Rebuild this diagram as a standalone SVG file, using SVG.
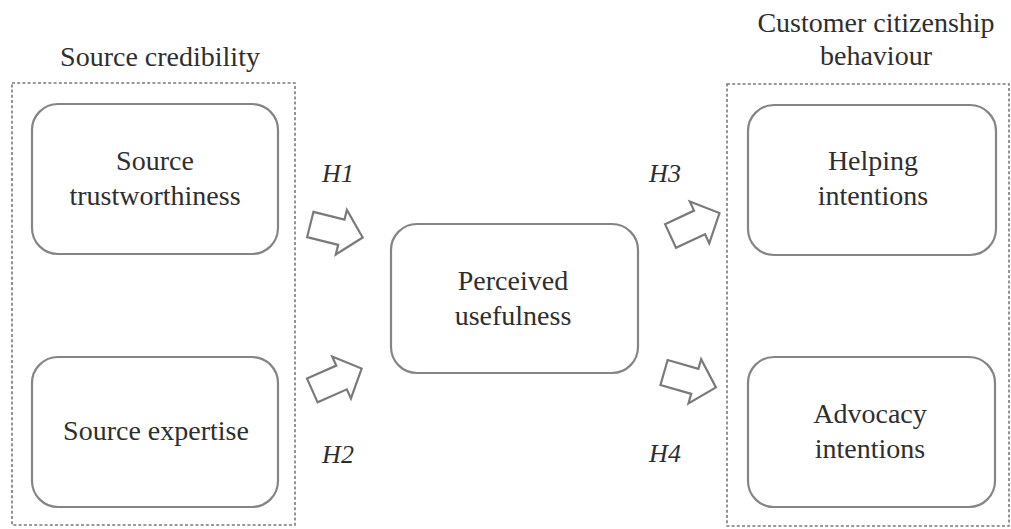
<svg xmlns="http://www.w3.org/2000/svg" width="1011" height="529" viewBox="0 0 1011 529">
<style>
.bg{fill:#ffffff}
.group{fill:none;stroke:#7a7a7a;stroke-width:1.6;stroke-dasharray:3 2.2}
.box{fill:#ffffff;stroke:#858585;stroke-width:2.2}
.arrow{fill:#ffffff;stroke:#7a7a7a;stroke-width:2.2;stroke-linejoin:miter}
text{font-family:"Liberation Serif","Times New Roman",serif;fill:#2e2e2e;text-anchor:middle}
.t{font-size:28px}
.h{font-size:26px;font-style:italic}
</style>
<defs>
<polygon id="blk" points="-27,-13 5,-13 5,-23 27,0 5,23 5,13 -27,13"/>
</defs>
<rect class="bg" x="0" y="0" width="1011" height="529"/>

<g id="source-credibility">
<rect class="group" x="12" y="83" width="283" height="442"/>
<text class="t" x="160" y="66">Source credibility</text>
</g>
<g id="customer-citizenship">
<rect class="group" x="727" y="84" width="282" height="442"/>
<text class="t" x="876" y="32">Customer citizenship</text>
<text class="t" x="876" y="65">behaviour</text>
</g>

<g id="source-trustworthiness">
<rect class="box" x="32" y="104" width="246" height="150" rx="26"/>
<text class="t" x="155" y="170">Source</text>
<text class="t" x="155" y="205">trustworthiness</text>
</g>
<g id="source-expertise">
<rect class="box" x="32" y="357" width="246" height="150" rx="26"/>
<text class="t" x="156" y="440">Source expertise</text>
</g>
<g id="perceived-usefulness">
<rect class="box" x="391" y="224" width="247" height="149" rx="26"/>
<text class="t" x="513" y="290">Perceived</text>
<text class="t" x="513" y="325">usefulness</text>
</g>
<g id="helping-intentions">
<rect class="box" x="748" y="105" width="248" height="150" rx="26"/>
<text class="t" x="873" y="170">Helping</text>
<text class="t" x="873" y="205">intentions</text>
</g>
<g id="advocacy-intentions">
<rect class="box" x="748" y="357" width="247" height="150" rx="26"/>
<text class="t" x="870" y="423">Advocacy</text>
<text class="t" x="870" y="458">intentions</text>
</g>

<g id="connectors">
<use href="#blk" class="arrow" transform="translate(336.5 231) rotate(14)"/>
<use href="#blk" class="arrow" transform="translate(337 379.5) rotate(-24)"/>
<use href="#blk" class="arrow" transform="translate(695 224.5) rotate(-25)"/>
<use href="#blk" class="arrow" transform="translate(690 380) rotate(16)"/>
<text class="h" x="338" y="182">H1</text>
<text class="h" x="338" y="463">H2</text>
<text class="h" x="665" y="182">H3</text>
<text class="h" x="665" y="462">H4</text>
</g>
</svg>
